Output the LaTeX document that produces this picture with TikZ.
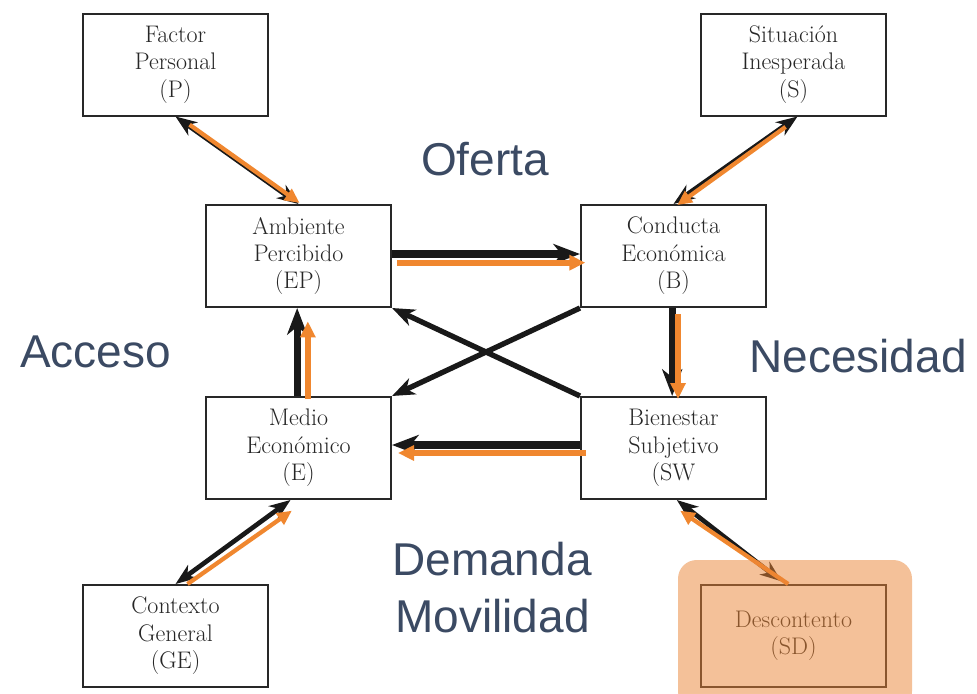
\documentclass[tikz,border=0pt]{standalone}
\usepackage{xcolor}
\usepackage{fontspec}
\usepackage{tikz}
\usetikzlibrary{calc,arrows.meta}
\newfontfamily\labelfont{Liberation Sans}
\definecolor{naranja}{RGB}{240,135,47}
\definecolor{pizarra}{RGB}{59,74,99}
\definecolor{tinta}{RGB}{40,40,40}
\definecolor{velo}{RGB}{235,133,53}

\begin{document}
\begin{tikzpicture}[x=0.75pt, y=-0.75pt,
		caja/.style={draw=tinta, line width=1.5pt, fill=white, text=black!85, minimum width=138.75pt, minimum height=76.5pt, inner sep=0pt, align=center, font=\fontsize{18}{20.6}\selectfont},
		negra/.style={draw=black!90, line width=5.5pt, >={Stealth[length=20pt,width=15pt,inset=6pt]}, ->},
		negrafina/.style={draw=black!90, line width=4pt, >={Stealth[length=17pt,width=13pt,inset=5pt]}, ->},
		negradoble/.style={draw=black!90, line width=3.5pt, >={Stealth[length=16pt,width=12pt,inset=5pt]}, <->},
		naranjaflecha/.style={draw=naranja, line width=4.5pt, >={Triangle[length=12pt,width=11pt]}, ->},
		naranjafina/.style={draw=naranja, line width=3.2pt, >={Triangle[length=11pt,width=10pt]}, ->},
		etiqueta/.style={text=pizarra, font=\labelfont\fontsize{34.5}{41}\selectfont, inner sep=0pt}]
		\fill[white] (0,0) rectangle (977,693);
		\useasboundingbox (0,0) rectangle (977,693);

		%----------------------------------------------------
		% Boxes of the model
		%----------------------------------------------------
		\node[caja] (P)  at (175.5,64.5) {Factor\\Personal\\(P)};
		\node[caja] (S)  at (793.5,64.5) {Situación\\Inesperada\\(S)};
		\node[caja] (EP) at (298.5,256) {Ambiente\\Percibido\\(EP)};
		\node[caja] (B)  at (673.5,256) {Conducta\\Económica\\(B)};
		\node[caja] (E)  at (298.5,448) {Medio\\Económico\\(E)};
		\node[caja] (SW) at (673.5,448) {Bienestar\\Subjetivo\\(SW};
		\node[caja] (GE) at (175.5,636) {Contexto\\General\\(GE)};
		\node[caja] (SD) at (793.5,636) {Descontento\\(SD)};

		%----------------------------------------------------
		% Two-way links with the outer boxes
		%----------------------------------------------------
		\draw [negradoble] (P.south) -- (EP.north);
		\draw [naranjafina, shorten <=12pt, transform canvas={shift={(0.8pt,0.8pt)}}] (P.south) -- (EP.north);

		\draw [negradoble] ([xshift=3pt]S.south) -- (B.north);
		\draw [naranjafina, shorten <=12pt, transform canvas={shift={(0.8pt,-0.8pt)}}] ([xshift=3pt]S.south) -- ([xshift=2pt]B.north);

		\draw [negradoble] (GE.north) -- ([xshift=-6pt]E.south);
		\draw [naranjafina] ([xshift=9pt]GE.north) -- ([xshift=-5pt,yshift=-8pt]E.south);

		\draw [negradoble] ([xshift=2.5pt]SW.south) -- ([xshift=-9pt,yshift=2pt]SD.north);
		\draw [naranjafina] ([xshift=-4pt]SD.north) -- ([xshift=5pt,yshift=-8pt]SW.south);

		%----------------------------------------------------
		% Inner cycle
		%----------------------------------------------------
		\draw [negra] ([yshift=1.5pt]EP.east) -- ([yshift=1.5pt]B.west);
		\draw [naranjaflecha] ([xshift=4pt,yshift=-5pt]EP.east) -- ([xshift=4pt,yshift=-5pt]B.west);

		\draw [negra] ([xshift=-1pt]B.south) -- ([xshift=-1pt]SW.north);
		\draw [naranjaflecha] ([xshift=3.4pt,yshift=-4.5pt]B.south) -- ([xshift=3.4pt,yshift=-2.25pt]SW.north);

		\draw [negra] ([yshift=2.25pt]SW.west) -- ([yshift=2.25pt]E.east);
		\draw [naranjaflecha] ([xshift=4.5pt,yshift=-3.75pt]SW.west) -- ([xshift=4.5pt,yshift=-3.75pt]E.east);

		\draw [negra] ([xshift=-1pt]E.north) -- ([xshift=-1pt]EP.south);
		\draw [naranjaflecha] ([xshift=7pt,yshift=-2pt]E.north) -- ([xshift=7pt,yshift=-10pt]EP.south);

		\draw [negrafina] (B.south west) -- (E.north east);
		\draw [negrafina] (SW.north west) -- (EP.south east);

		% highlight on SD
		\fill [velo, opacity=0.5, rounded corners=14pt] (678,560) rectangle (912,710);

		%----------------------------------------------------
		% Labels
		%----------------------------------------------------
		\node[etiqueta, anchor=base] (oferta) at (485,175) {Oferta};
		\node[etiqueta, anchor=base] (acceso) at (95.5,367) {Acceso};
		\node[etiqueta, anchor=base] (necesidad) at (858,372) {Necesidad};
		\node[etiqueta, anchor=base] (demanda) at (492,575) {Demanda};
		\node[etiqueta, anchor=base] (movilidad) at (492.5,632) {Movilidad};

	\end{tikzpicture}
\end{document}
